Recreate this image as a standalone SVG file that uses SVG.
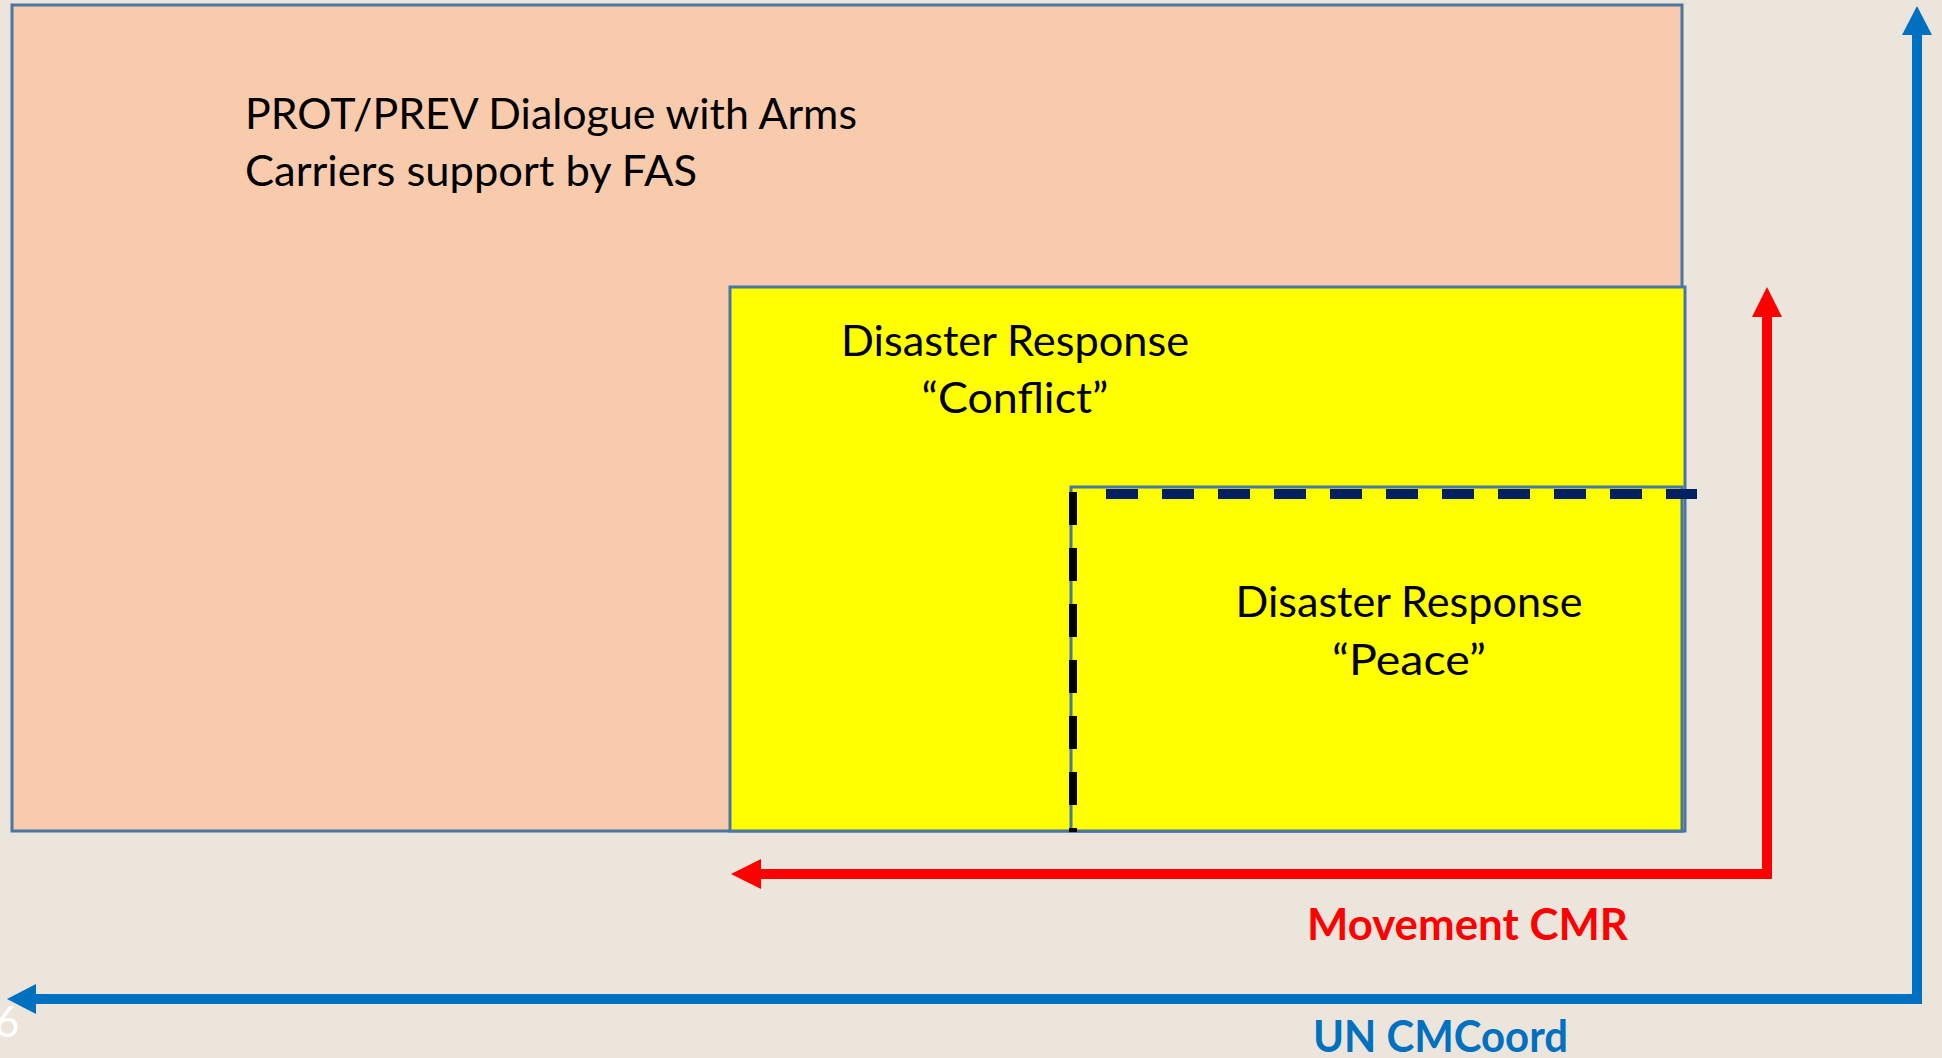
<svg xmlns="http://www.w3.org/2000/svg" width="1942" height="1058" viewBox="0 0 1942 1058">
  <style>
    .box { stroke: #4A76A3; stroke-width: 3; }
    .txt { font-family: Lato, "Open Sans", "Liberation Sans", sans-serif; font-size: 43px; fill: #000000; }
    .lbl { font-family: Lato, "Open Sans", "Liberation Sans", sans-serif; font-size: 43px; font-weight: bold; }
  </style>
  <defs>
    <marker id="redHead" markerUnits="userSpaceOnUse" markerWidth="30" markerHeight="30" refX="0" refY="15" orient="auto-start-reverse" viewBox="0 0 30 30">
      <path d="M0,0 L30,15 L0,30 Z" fill="#FF0000"/>
    </marker>
    <marker id="blueHead" markerUnits="userSpaceOnUse" markerWidth="30" markerHeight="30" refX="0" refY="15" orient="auto-start-reverse" viewBox="0 0 30 30">
      <path d="M0,0 L29,15 L0,30 Z" fill="#0070C0"/>
    </marker>
  </defs>
  <rect x="0" y="0" width="1942" height="1058" fill="#EBE5DB"/>

  <g id="prot-prev">
    <rect class="box" x="12" y="5" width="1670" height="826" fill="#F8CBAD"/>
    <text class="txt" x="245" y="129" textLength="612" lengthAdjust="spacingAndGlyphs">PROT/PREV Dialogue with Arms</text>
    <text class="txt" x="245" y="186" textLength="452" lengthAdjust="spacingAndGlyphs">Carriers support by FAS</text>
  </g>

  <g id="dr-conflict">
    <rect class="box" x="730" y="287" width="955" height="544" fill="#FFFF00"/>
    <text class="txt" x="1015" y="356" text-anchor="middle" textLength="348" lengthAdjust="spacingAndGlyphs">Disaster Response</text>
    <text class="txt" x="1015" y="413" text-anchor="middle" textLength="187" lengthAdjust="spacingAndGlyphs">“Conflict”</text>
  </g>

  <g id="dr-peace">
    <rect class="box" x="1071" y="487" width="611" height="344" fill="#FFFF00"/>
    <line x1="1106" y1="494" x2="1697" y2="494" stroke="#002060" stroke-width="10" stroke-dasharray="32 24"/>
    <line x1="1073" y1="492" x2="1073" y2="832" stroke="#000000" stroke-width="8" stroke-dasharray="33 23"/>
    <text class="txt" x="1409" y="617" text-anchor="middle" textLength="347" lengthAdjust="spacingAndGlyphs">Disaster Response</text>
    <text class="txt" x="1409" y="675" text-anchor="middle" textLength="154" lengthAdjust="spacingAndGlyphs">“Peace”</text>
  </g>

  <g id="connectors">
    <polyline points="761,874 1767,874 1767,317" fill="none" stroke="#FF0000" stroke-width="10" stroke-linejoin="miter" marker-start="url(#redHead)" marker-end="url(#redHead)"/>
    <polyline points="36,999 1917,999 1917,35" fill="none" stroke="#0070C0" stroke-width="10" stroke-linejoin="miter" marker-start="url(#blueHead)" marker-end="url(#blueHead)"/>
  </g>

  <g id="labels">
    <text class="lbl" x="1307" y="940" fill="#FF0000" textLength="321" lengthAdjust="spacingAndGlyphs">Movement CMR</text>
    <text class="lbl" x="1313" y="1052" fill="#0070C0" textLength="255" lengthAdjust="spacingAndGlyphs">UN CMCoord</text>
  </g>

  <text x="-5" y="1037" font-family="Lato, 'Open Sans', 'Liberation Sans', sans-serif" font-size="42" fill="#FFFFFF">6</text>
</svg>
